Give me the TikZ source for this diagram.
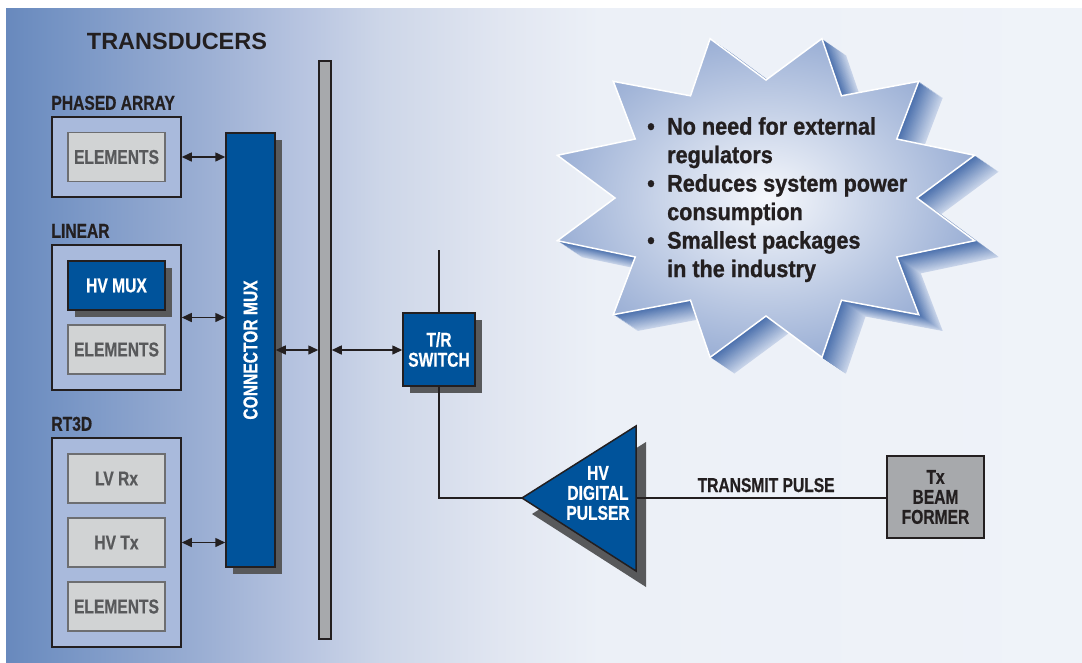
\documentclass[tikz,border=0pt]{standalone}
\usepackage{fontspec}
\usepackage{graphicx}
\setmainfont{Liberation Sans}
\newfontfamily\narrowfont{Liberation Sans}[FakeStretch=0.78,FakeBold=0.6]
\newfontfamily\starfont{Liberation Sans}[FakeStretch=0.9,FakeBold=1]
\usetikzlibrary{arrows.meta,shadows}

\definecolor{linedark}{HTML}{231F20}
\definecolor{mxblue}{HTML}{00539B}
\definecolor{shadowgray}{HTML}{58595B}
\definecolor{grpfill}{HTML}{A9BADC}
\definecolor{grayfill}{HTML}{D1D3D4}
\definecolor{graydark}{HTML}{6D6E71}
\definecolor{graytext}{HTML}{58595B}
\definecolor{busgray}{HTML}{A7A9AC}
\definecolor{starwhite}{HTML}{F6F8FC}
\definecolor{starblue}{HTML}{9DB1D6}
\definecolor{starnear}{HTML}{4B70AD}
\definecolor{starfar}{HTML}{D2DCEE}
\definecolor{bgA}{HTML}{6889BD}
\definecolor{bgB}{HTML}{7392C3}
\definecolor{bgC}{HTML}{9AAED3}
\definecolor{bgD}{HTML}{B7C4E0}
\definecolor{bgE}{HTML}{CDD6E8}
\definecolor{bgF}{HTML}{E1E6F1}
\definecolor{bgG}{HTML}{ECF0F7}
\definecolor{bgH}{HTML}{EFF3F9}

\pgfdeclarehorizontalshading{bgshade}{100bp}{color(0bp)=(bgA); color(25bp)=(bgA);
  color(27bp)=(bgB); color(34bp)=(bgC); color(38.7bp)=(bgD); color(42.4bp)=(bgE);
  color(48bp)=(bgF); color(52.6bp)=(bgG); color(75bp)=(bgH); color(100bp)=(bgH)}

\newcommand\lblfont{\narrowfont\bfseries\fontsize{20}{20}\selectfont}
\newcommand\titlefont{\bfseries\fontsize{23.5}{24}\selectfont}
\newcommand\claimfont{\starfont\bfseries\fontsize{24}{28.5}\selectfont}
\newcommand\blt{\makebox[20pt][l]{\textbullet}}
\newcommand\ind{\hspace*{20pt}}
\newcommand\burstpath{(0:151 and 118) \foreach \a [evaluate=\a as \b using \a+15] in {15,45,...,345} { -- (\a:216 and 165) -- (\b:151 and 118) } -- cycle}

\begin{document}
\begin{tikzpicture}[x=1pt,y=-1pt]
  \tikzset{
    grp box/.style={draw=linedark,line width=1.5pt,fill=grpfill,minimum width=129pt,inner sep=0},
    gray box/.style={draw=graydark,line width=1.2pt,fill=grayfill,text=graytext,minimum width=97pt,minimum height=49pt,inner sep=0,font=\lblfont},
    blue box/.style={draw=linedark,line width=1.5pt,fill=mxblue,text=white,inner sep=0,font=\lblfont,align=center,
      drop shadow={shadow xshift=7pt,shadow yshift=-7pt,fill=shadowgray,opacity=1}},
    grp label/.style={anchor=base west,inner sep=0,font=\lblfont,text=linedark},
    wire/.style={draw=linedark,line width=1.5pt},
    both way/.style={wire,{Triangle[length=10pt,width=9pt]}-{Triangle[length=10pt,width=9pt]}}
  }
  \useasboundingbox (0,0) rectangle (1082,662);
  \shade[shading=bgshade] (6,8) rectangle (1082,662);

  % transducers
  \node[font=\titlefont,text=linedark,anchor=base,inner sep=0] (title) at (177,49) {TRANSDUCERS};

  \node[grp box,minimum height=80pt] (phased) at (116.5,157) {};
  \node[grp label] at ([yshift=6.5pt]phased.north west) {PHASED ARRAY};
  \node[gray box] (elem1) at (116.5,157) {ELEMENTS};

  \node[grp box,minimum height=145pt] (linear) at (116.5,317.5) {};
  \node[grp label] at ([yshift=6.5pt]linear.north west) {LINEAR};
  \node[blue box,minimum width=97pt,minimum height=49pt] (hvmux) at (116.5,285.5) {HV MUX};
  \node[gray box] (elem2) at (116.5,349.5) {ELEMENTS};

  \node[grp box,minimum height=209pt] (rt3d) at (116.5,542.5) {};
  \node[grp label] at ([yshift=6.5pt]rt3d.north west) {RT3D};
  \node[gray box] (lvrx) at (116.5,478.5) {LV Rx};
  \node[gray box] (hvtx) at (116.5,542.5) {HV Tx};
  \node[gray box] (elem3) at (116.5,606.5) {ELEMENTS};

  % mux and bus
  \node[blue box,minimum width=49pt,minimum height=434pt] (cmux) at (250.5,350) {\rotatebox{90}{CONNECTOR MUX}};
  \node[draw=linedark,line width=1.5pt,fill=busgray,minimum width=12pt,minimum height=578pt,inner sep=0] (bus) at (325,350) {};

  % transmit path
  \node[blue box,minimum width=72pt,minimum height=73pt] (trsw) at (439,349.5) {T/R\\SWITCH};
  \coordinate (trtop) at (439,250);
  \coordinate (ptip) at (522,498);
  \coordinate (ptop) at (636,426);
  \coordinate (pbot) at (636,571);
  \coordinate (pout) at (636,498);
  \fill[shadowgray] ([shift={(10,16)}]ptip) -- ([shift={(10,16)}]ptop) -- ([shift={(10,16)}]pbot) -- cycle;
  \draw[linedark,line width=1.5pt,fill=mxblue] (ptip) -- (ptop) -- (pbot) -- cycle;
  \node[text=white,font=\lblfont,align=center,inner sep=0] (pulser) at (598,493) {HV\\DIGITAL\\PULSER};
  \node[draw=linedark,line width=1.5pt,fill=busgray,text=linedark,font=\lblfont,align=center,
    minimum width=97pt,minimum height=82pt,inner sep=0] (txbf) at (935.5,497) {Tx\\BEAM\\FORMER};

  \draw[both way] (phased.east) -- (phased.east -| cmux.west);
  \draw[both way] (linear.east) -- (linear.east -| cmux.west);
  \draw[both way] (rt3d.east) -- (rt3d.east -| cmux.west);
  \draw[both way] (cmux.east) -- (bus.west);
  \draw[both way] (bus.east) -- (bus.east -| trsw.west);
  \draw[wire] (trsw.north) -- (trtop);
  \draw[wire] (trsw.south) |- (ptip);
  \draw[wire] (pout) -- (pout -| txbf.west)
    node[pos=0.52,anchor=base,yshift=6pt,font=\lblfont,text=linedark,inner sep=0] {TRANSMIT PULSE};

  % starburst
  \begin{scope}[shift={(766,198)}]
    \foreach \d [evaluate=\d as \pct using int(104-4*\d)] in {24,23,...,1}
      \fill[starnear!\pct!starfar,shift={(\d,0.68*\d)}] \burstpath;
    \shade[inner color=starwhite,outer color=starblue,draw=white,line width=1.5pt] \burstpath;
  \end{scope}
  \node[font=\claimfont,text=linedark,align=left,anchor=north west,inner sep=0] (claims) at (647,117)
    {\blt No need for external\\\ind regulators\\\blt Reduces system power\\\ind consumption\\\blt Smallest packages\\\ind in the industry};
\end{tikzpicture}
\end{document}
